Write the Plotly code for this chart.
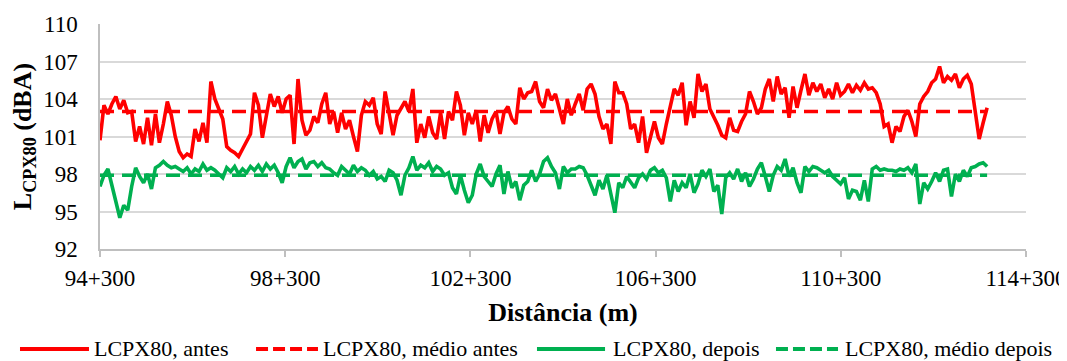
import plotly.graph_objects as go

# ---------------- data ----------------
start_m = 94300
end_m = 113460

lcpx_antes = [
    100.7, 103.5, 102.8, 103.6, 104.2, 103.2, 103.9, 102.9, 103.0, 100.6, 101.8, 100.4, 102.5, 100.3, 102.8,
    100.5, 102.0, 103.8, 102.7, 101.0, 99.8, 99.3, 99.6, 99.4, 101.6, 100.6, 102.1, 100.5, 105.4,
    104.0, 103.2, 102.4, 100.2, 99.9, 99.7, 99.4, 100.0, 100.6, 101.2, 104.5, 103.5, 100.9, 102.7, 104.4,
    103.4, 104.2, 102.9, 104.0, 104.3, 100.4, 105.6, 102.3, 101.1, 101.5, 102.6, 102.1, 103.6, 104.5,
    102.0, 103.0, 101.3, 102.9, 101.6, 102.3, 101.0, 99.8, 102.7, 103.8, 103.5, 104.1, 102.0, 101.2, 104.6,
    102.8, 101.1, 102.7, 103.3, 103.8, 103.0, 104.8, 100.5, 102.0, 100.9, 102.6, 101.3, 100.8, 102.9,
    100.8, 103.0, 102.3, 104.6, 103.5, 101.1, 102.9, 102.0, 103.1, 100.6, 102.7, 101.3, 102.4, 103.0, 101.2,
    102.9, 103.4, 102.4, 102.0, 104.9, 104.0, 104.5, 104.6, 105.4, 103.8, 103.3, 104.8, 103.9, 104.4,
    103.2, 102.0, 104.0, 102.7, 103.6, 104.4, 103.1, 104.8, 105.2, 104.4, 102.6, 101.6, 102.0, 100.4, 105.4,
    104.5, 104.5, 103.6, 101.6, 102.0, 100.5, 102.6, 99.7, 101.0, 102.2, 100.9, 100.4, 102.0, 103.5,
    104.8, 104.3, 105.3, 101.9, 103.8, 102.5, 106.0, 104.6, 105.2, 103.2, 102.6, 101.9, 101.1, 100.9, 102.5,
    101.5, 101.4, 102.2, 102.8, 104.6, 103.8, 102.8, 103.3, 104.8, 105.6, 103.8, 105.8, 104.4, 104.9,
    102.5, 105.0, 103.3, 104.7, 106.0, 104.3, 105.3, 104.6, 105.2, 104.1, 104.8, 104.0, 105.3, 104.3, 104.6,
    105.2, 104.5, 105.1, 104.7, 105.3, 104.8, 104.9, 104.5, 103.6, 101.8, 102.0, 100.5, 101.8, 101.4,
    102.6, 103.1, 102.2, 101.0, 103.6, 104.2, 104.6, 105.3, 105.6, 106.6, 105.3, 105.8, 105.5, 106.0, 104.9,
    105.6, 105.9, 105.2, 103.0, 100.8, 102.1, 103.3,
]

lcpx_depois = [
    97.0, 97.9, 98.4, 97.1, 95.9, 94.5, 95.5, 95.1, 97.0, 98.5, 97.8, 97.3, 98.0, 96.8, 98.5,
    98.7, 99.0, 98.7, 98.5, 98.6, 98.4, 98.2, 98.5, 98.0, 98.4, 98.2, 98.8, 98.3, 98.5,
    98.3, 98.0, 97.7, 98.5, 98.2, 98.6, 98.0, 98.4, 98.1, 98.6, 98.3, 98.7, 98.2, 98.8, 98.4,
    98.7, 98.1, 97.3, 98.6, 99.3, 98.5, 99.0, 99.2, 98.4, 98.9, 99.0, 98.6, 98.9, 98.5,
    98.4, 98.1, 97.9, 98.6, 98.3, 98.0, 98.7, 98.2, 98.5, 98.3, 97.9, 98.2, 97.6, 97.8, 97.4,
    98.3, 98.1, 97.5, 96.3, 97.9, 98.5, 99.4, 98.3, 98.7, 98.5, 98.9, 98.2, 98.6, 98.4,
    97.9, 98.1, 96.9, 96.4, 97.9, 96.7, 95.7, 96.3, 98.0, 98.8, 97.8, 97.4, 97.0, 98.0, 98.7,
    96.4, 98.2, 96.9, 97.4, 95.9, 97.1, 97.4, 98.3, 97.4, 98.0, 99.0, 99.3, 98.6, 98.1,
    96.8, 98.6, 98.1, 98.4, 98.4, 98.6, 98.5, 97.9, 97.1, 96.3, 97.5, 96.8, 97.9, 96.3, 94.9,
    97.3, 96.9, 97.8, 97.4, 96.9, 97.7, 98.0, 97.6, 98.3, 98.5, 98.1, 98.3, 97.7, 95.8,
    97.5, 96.6, 97.3, 96.9, 98.0, 96.5, 97.2, 98.3, 97.8, 98.4, 96.6, 97.1, 94.8, 97.7, 98.1,
    97.6, 98.4, 97.4, 98.1, 97.0, 97.6, 98.4, 98.9, 97.8, 96.6, 97.9, 98.6, 98.3, 99.2,
    97.8, 98.5, 97.3, 96.5, 98.6, 98.2, 98.6, 98.5, 98.3, 98.1, 98.3, 97.8, 97.5, 97.2, 97.7,
    96.0, 96.7, 96.6, 95.9, 97.5, 95.8, 98.4, 98.6, 98.3, 98.4, 98.3, 98.3, 98.2, 98.4,
    98.3, 98.5, 98.1, 98.8, 95.6, 97.3, 96.8, 97.4, 98.1, 97.4, 98.3, 98.4, 96.2, 98.0, 97.4,
    98.3, 97.8, 98.5, 98.6, 98.8, 98.9, 98.6,
]

medio_antes = 103.0
medio_depois = 97.9

x_tick_vals = [94300, 98300, 102300, 106300, 110300, 114300]
x_tick_text = ["94+300", "98+300", "102+300", "106+300", "110+300", "114+300"]
y_tick_vals = [92, 95, 98, 101, 104, 107, 110]

series_names = ["LCPX80, antes", "LCPX80, médio antes", "LCPX80, depois", "LCPX80, médio depois"]

# sampling grid of the measurements (regular spacing along the road)
n = len(lcpx_antes)
step = (end_m - start_m) / (n - 1)
distancia = [start_m + i * step for i in range(n)]

RED = "#FF0000"
GREEN = "#00B050"
FONT = "'Liberation Serif', 'Times New Roman', Times, serif"
LW = 3.6

fig = go.Figure()
fig.add_trace(go.Scatter(x=distancia, y=lcpx_antes, mode="lines", name=series_names[0],
                         line=dict(color=RED, width=LW), showlegend=False))
fig.add_trace(go.Scatter(x=distancia, y=[medio_antes] * n, mode="lines", name=series_names[1],
                         line=dict(color=RED, width=LW, dash="14px,8px"), showlegend=False))
fig.add_trace(go.Scatter(x=distancia, y=lcpx_depois, mode="lines", name=series_names[2],
                         line=dict(color=GREEN, width=LW), showlegend=False))
fig.add_trace(go.Scatter(x=distancia, y=[medio_depois] * n, mode="lines", name=series_names[3],
                         line=dict(color=GREEN, width=LW, dash="14px,8px"), showlegend=False))

# manual legend (longer key lines than plotly's built-in legend)
legend_items = [
    (series_names[0], RED, "solid", -0.0864, -0.0119, -0.0086),
    (series_names[1], RED, "12px,5px", 0.1685, 0.2354, 0.2387),
    (series_names[2], GREEN, "solid", 0.4719, 0.5454, 0.5518),
    (series_names[3], GREEN, "12px,5px", 0.7300, 0.7970, 0.8024),
]
ly = -0.444
shapes = []
annotations = []
for name, col, dash, x0, x1, xt in legend_items:
    shapes.append(dict(type="line", xref="paper", yref="paper", x0=x0, x1=x1, y0=ly, y1=ly,
                       line=dict(color=col, width=4, dash=dash)))
    annotations.append(dict(text=name, xref="paper", yref="paper", x=xt, y=ly, xanchor="left",
                            yanchor="middle", showarrow=False, font=dict(family=FONT, size=22, color="black")))

# the page body has an 8px default margin: size the figure so it fits the 1067x361 window
fig.update_layout(
    width=1059, height=353,
    margin=dict(l=92, r=41, t=16, b=112, autoexpand=False),
    paper_bgcolor="white", plot_bgcolor="white",
    font=dict(family=FONT, size=23, color="black"),
    shapes=shapes, annotations=annotations,
    showlegend=False,
)
fig.update_xaxes(
    range=[94300, 114300], tickmode="array", tickvals=x_tick_vals, ticktext=x_tick_text,
    showgrid=False, showline=True, linecolor="#BFBFBF", linewidth=1.5,
    ticks="outside", ticklen=6, tickcolor="#BFBFBF", tickwidth=1.5,
    ticklabelstandoff=2, tickfont=dict(family=FONT, size=23, color="black"),
    title=dict(text="<b>Distância (m)</b>", font=dict(family=FONT, size=26, color="black"), standoff=12),
    zeroline=False, automargin=False,
)
fig.update_yaxes(
    range=[92, 110], tickmode="array", tickvals=y_tick_vals,
    showgrid=True, gridcolor="#D9D9D9", gridwidth=1.5,
    showline=True, linecolor="#BFBFBF", linewidth=1.5,
    ticks="", ticklabelstandoff=16, tickfont=dict(family=FONT, size=23, color="black"),
    title=dict(text="<b>L<sub>CPX80</sub> (dBA)</b>", font=dict(family=FONT, size=26, color="black"), standoff=6),
    zeroline=False, automargin=False,
)

fig.write_html("out.html")
